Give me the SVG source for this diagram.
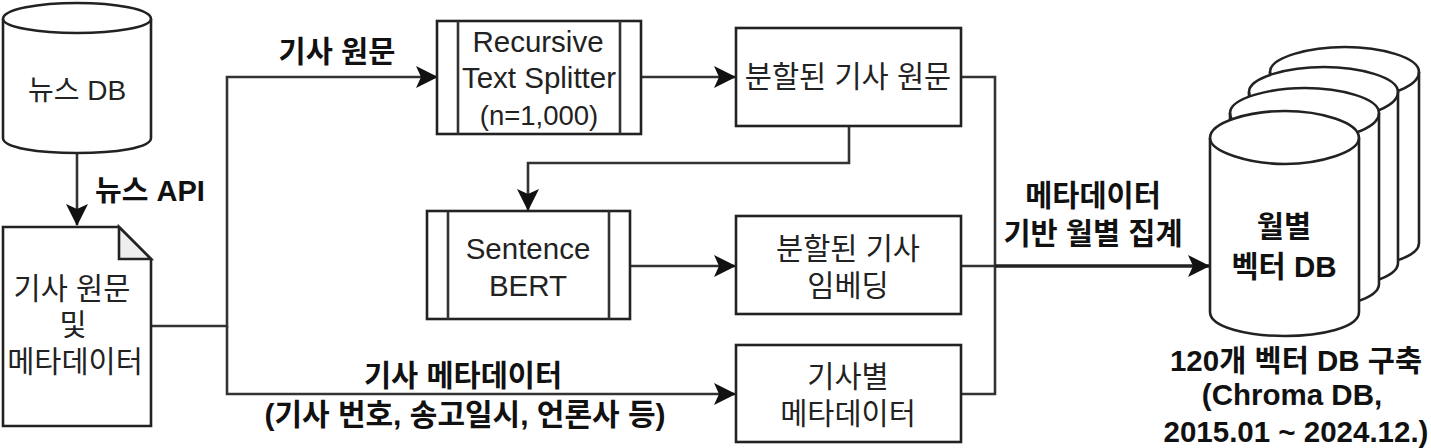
<svg xmlns="http://www.w3.org/2000/svg" width="1431" height="448" viewBox="0 0 1431 448">
<style>
.s{fill:#fff;stroke:#222;stroke-width:2.6}
.n{fill:none;stroke:#222;stroke-width:2.6}
.l{fill:none;stroke:#333;stroke-width:2.6}
.h{fill:#111;stroke:none}
text{font-family:"Liberation Sans","Noto Sans CJK KR",sans-serif;font-size:29.5px;fill:#222;text-anchor:middle}
.b{font-weight:bold;fill:#111}
</style>
<defs>
<marker id="a" viewBox="0 0 24 24" refX="22" refY="12" markerWidth="24" markerHeight="24" markerUnits="userSpaceOnUse" orient="auto"><path class="h" d="M1 1L23 12L1 23L6 12Z"/></marker>
</defs>
<g id="connectors">
<path class="l" d="M77 153V225" marker-end="url(#a)"/>
<path class="l" d="M152 326H227V77H437" marker-end="url(#a)"/>
<path class="l" d="M227 326V394H735" marker-end="url(#a)"/>
<path class="l" d="M641 77H735" marker-end="url(#a)"/>
<path class="l" d="M849 126V163H528V210" marker-end="url(#a)"/>
<path class="l" d="M630 266H735" marker-end="url(#a)"/>
<path class="l" d="M961 77H995V394H961"/>
<path class="l" d="M961 266H995"/>
<path class="l" style="stroke-width:3.6;stroke:#222" d="M995 266H1209" marker-end="url(#a)"/>
</g>
<g id="news-db"><path class="s" d="M3 19C3 9 39 3 77 3S151 9 151 19V138C151 148 115 153 77 153S3 148 3 138Z"/><path class="n" d="M3 19C3 27 39 33 77 33S151 27 151 19"/><text x="77" y="100" style="font-size:28px">뉴스 DB</text></g>
<g id="article-doc"><path class="s" d="M3 227H119L151 259V426H3Z"/><path d="M119 227V259H151Z" fill="#eee" stroke="#222" stroke-width="2.6"/><text x="72" y="299">기사 원문</text><text x="73" y="335">및</text><text x="75" y="372">메타데이터</text></g>
<g id="splitter"><rect class="s" x="437" y="21" width="204" height="113"/><path class="l" d="M458 21V134M620 21V134"/><text x="538" y="52">Recursive</text><text x="539" y="88">Text Splitter</text><text x="539" y="125" style="font-size:27.5px">(n=1,000)</text></g>
<g id="split-article"><rect class="s" x="736" y="28" width="225" height="98"/><text x="848" y="87">분할된 기사 원문</text></g>
<g id="sbert"><rect class="s" x="427" y="211" width="203" height="108"/><path class="l" d="M448 211V319M609 211V319"/><text x="528" y="259">Sentence</text><text x="528" y="296">BERT</text></g>
<g id="split-embedding"><rect class="s" x="736" y="216" width="225" height="98"/><text x="848" y="259">분할된 기사</text><text x="848" y="296">임베딩</text></g>
<g id="article-meta"><rect class="s" x="736" y="345" width="225" height="97"/><text x="848" y="387">기사별</text><text x="848" y="424">메타데이터</text></g>
<g id="vector-db">
<path class="s" d="M1270 72C1270 57 1310 47 1345 47S1419 57 1419 72V243C1419 258 1380 268 1345 268S1270 258 1270 243Z"/>
<path class="n" d="M1270 72C1270 88 1310 100 1345 100S1419 88 1419 72"/>
<path class="s" d="M1249 92C1249 77 1289 67 1324 67S1398 77 1398 92V263C1398 278 1359 288 1324 288S1249 278 1249 263Z"/>
<path class="n" d="M1249 92C1249 108 1289 120 1324 120S1398 108 1398 92"/>
<path class="s" d="M1230 113C1230 98 1270 88 1305 88S1379 98 1379 113V284C1379 299 1340 309 1305 309S1230 299 1230 284Z"/>
<path class="n" d="M1230 113C1230 129 1270 141 1305 141S1379 129 1379 113"/>
<path class="s" d="M1210 138C1210 122 1250 111 1285 111S1359 122 1359 138V312C1359 328 1320 336 1285 336S1210 328 1210 312Z"/>
<path class="n" d="M1210 138C1210 152 1250 164 1285 164S1359 152 1359 138"/>
<text class="b" x="1284" y="237">월별</text><text class="b" x="1284" y="277">벡터 DB</text></g>
<g id="labels">
<text class="b" x="337" y="62">기사 원문</text>
<text class="b" x="150" y="201" style="font-size:29px">뉴스 API</text>
<text class="b" x="463" y="386">기사 메타데이터</text>
<text class="b" x="465" y="425" style="font-size:30px">(기사 번호, 송고일시, 언론사 등)</text>
<text class="b" x="1093" y="206">메타데이터</text>
<text class="b" x="1093" y="244">기반 월별 집계</text>
<text class="b" x="1296" y="371">120개 벡터 DB 구축</text>
<text class="b" x="1292" y="405">(Chroma DB,</text>
<text class="b" x="1296" y="442">2015.01 ~ 2024.12.)</text>
</g>
</svg>
